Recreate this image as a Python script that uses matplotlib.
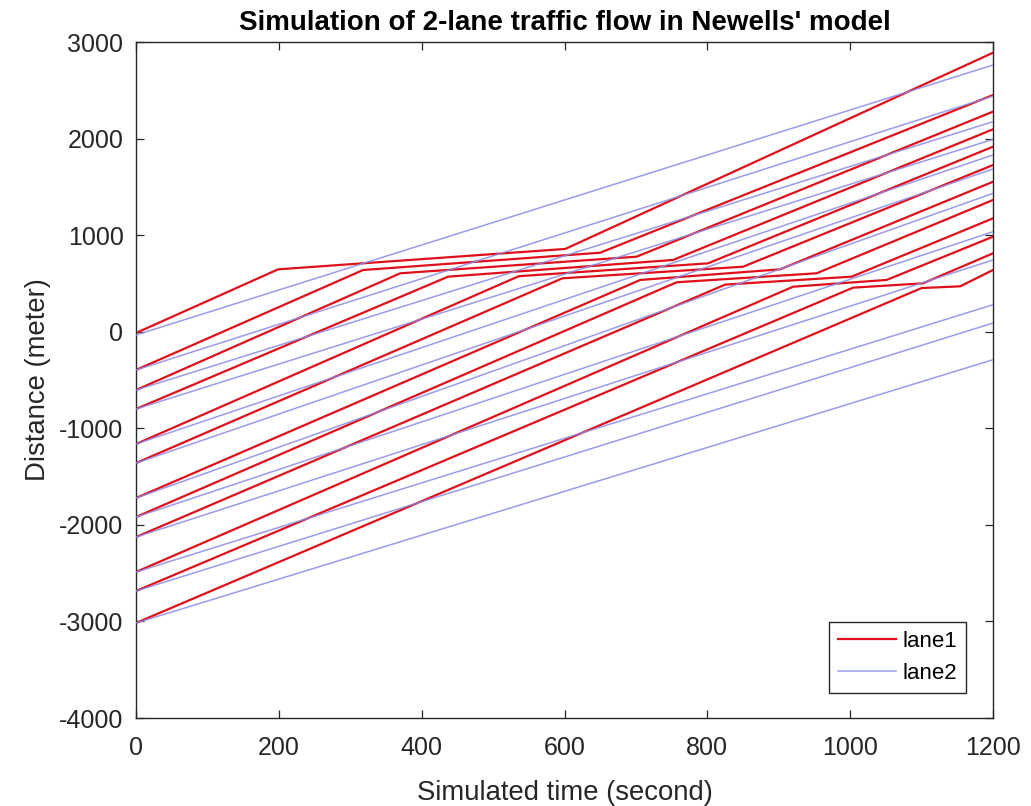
import matplotlib
matplotlib.use("Agg")
import matplotlib.pyplot as plt

plt.rcParams['font.family'] = ['Liberation Sans', 'DejaVu Sans']
plt.rcParams['axes.unicode_minus'] = False

# ---- data ----
# lane 1 (red): start position at t=0, entry into slow segment, exit, end at t=1200
red_start = [-13, -396, -604, -800, -1163, -1360, -1722, -1919, -2126, -2488, -2685, -3016]
red_enter_t = [199, 318, 370, 437, 536, 597, 706, 757, 825, 920, 1004, 1100]
red_enter_d = [646, 639, 605, 570, 575, 553, 536, 512, 488, 466, 456, 452]
red_exit_t = [601, 650, 701, 752, 801, 850, 902, 953, 1002, 1051, 1102, 1154]
red_exit_d = [857, 818, 777, 743, 708, 673, 646, 605, 570, 536, 501, 470]
red_end = [2889, 2451, 2279, 2096, 1916, 1726, 1553, 1364, 1174, 984, 812, 639]

# lane 2 (blue): position at t=0 and at t=1200
blue_start = [-34, -396, -604, -800, -1163, -1360, -1722, -1919, -2126, -2488, -2685, -3016]
blue_end = [2762, 2440, 2175, 1992, 1830, 1685, 1433, 1036, 743, 280, 90, -290]

t_start, t_end = 0, 1200

fig = plt.figure(figsize=(10.31, 8.06), dpi=100)
ax = fig.add_axes([136/1031, 1-718/806, (993-136)/1031, (718-42)/806])

red_c = '#e0101a'
blue_c = '#8a8ae6'

for i in range(len(red_start)):
    ts = [t_start, red_enter_t[i], red_exit_t[i], t_end]
    ds = [red_start[i], red_enter_d[i], red_exit_d[i], red_end[i]]
    ax.plot(ts, ds, color=red_c, lw=1.6, label='lane1' if i == 0 else None, zorder=2)

for i in range(len(blue_start)):
    ax.plot([t_start, t_end], [blue_start[i], blue_end[i]], color=blue_c, lw=1.1,
            alpha=0.85, label='lane2' if i == 0 else None, zorder=3)

ax.set_xlim(0, 1200)
ax.set_ylim(-4000, 3000)
ax.set_xticks(range(0, 1201, 200))
ax.set_yticks(range(-4000, 3001, 1000))

ax.tick_params(direction='in', length=6, width=0.9, colors='#262626',
               labelsize=18, top=True, right=True)
ax.tick_params(axis='x', pad=13)
ax.tick_params(axis='y', pad=9)
for s in ax.spines.values():
    s.set_color('#262626')
    s.set_linewidth(1.0)

ax.set_title("Simulation of 2-lane traffic flow in Newells' model",
             fontsize=20, fontweight='bold', pad=9, color='black')
ax.set_xlabel('Simulated time (second)', fontsize=19.8, color='#262626', labelpad=14)
ax.set_ylabel('Distance (meter)', fontsize=19.8, color='#262626', labelpad=6)

leg = ax.legend(loc='lower right', bbox_to_anchor=(0.9685, 0.0374),
                borderaxespad=0, fontsize=16, frameon=True, fancybox=False,
                framealpha=1, edgecolor='#262626', handlelength=2.6,
                handletextpad=0.3, borderpad=0.4, labelspacing=0.5)
leg.get_frame().set_linewidth(1.0)

fig.savefig('out.png', dpi=100, facecolor='white')
